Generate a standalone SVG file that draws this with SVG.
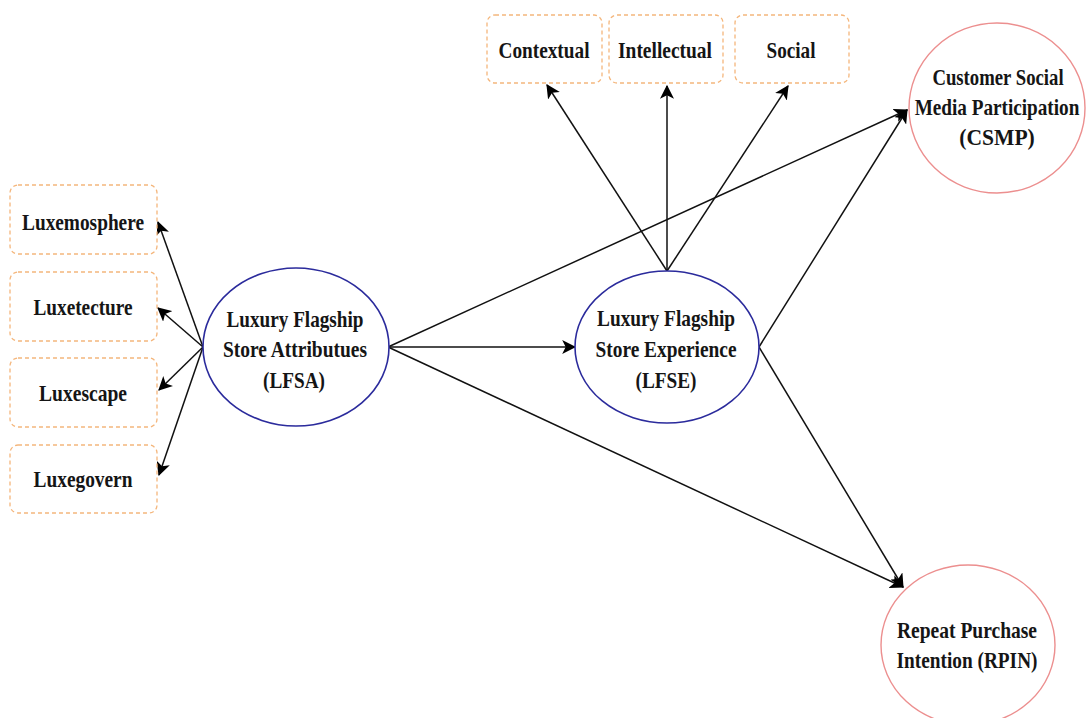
<svg xmlns="http://www.w3.org/2000/svg" width="1087" height="718" viewBox="0 0 1087 718">
  <style>
    .ind { fill: #ffffff; stroke: #f4b67c; stroke-width: 1.3; stroke-dasharray: 4 3; }
    .lat { fill: #ffffff; stroke: #2b2b9c; stroke-width: 1.6; }
    .out { fill: #ffffff; stroke: #ec8f8f; stroke-width: 1.4; }
    .lbl { font-family: "Liberation Serif", "Times New Roman", serif; font-weight: bold; font-size: 24px; fill: #151515; text-anchor: middle; }
    .edge { fill: none; stroke: #111111; stroke-width: 1.5; marker-end: url(#arrow); }
  </style>
  <defs>
    <marker id="arrow" viewBox="0 0 12 12" refX="11" refY="6" markerWidth="14" markerHeight="14" markerUnits="userSpaceOnUse" orient="auto">
      <path d="M0,0 L12,6 L0,12 L3,6 Z" fill="#000000"/>
    </marker>
  </defs>
  <rect width="1087" height="718" fill="#ffffff"/>

  <!-- connectors -->
  <g id="connectors">
    <line class="edge" x1="203" y1="347" x2="158" y2="222"/>
    <line class="edge" x1="203" y1="347" x2="158" y2="308"/>
    <line class="edge" x1="203" y1="347" x2="159" y2="390"/>
    <line class="edge" x1="203" y1="347" x2="159" y2="475"/>
    <line class="edge" x1="388" y1="347" x2="575" y2="347"/>
    <line class="edge" x1="388" y1="347" x2="907" y2="110"/>
    <line class="edge" x1="388" y1="347" x2="903" y2="587"/>
    <line class="edge" x1="759" y1="347" x2="907" y2="110"/>
    <line class="edge" x1="759" y1="347" x2="903" y2="587"/>
    <line class="edge" x1="667" y1="271" x2="547" y2="85"/>
    <line class="edge" x1="667" y1="271" x2="667" y2="86"/>
    <line class="edge" x1="667" y1="271" x2="788" y2="86"/>
  </g>

  <!-- indicator boxes for LFSA -->
  <g id="luxemosphere">
    <rect class="ind" x="10" y="185" width="147" height="69" rx="8"/>
    <text class="lbl" x="83" y="230" textLength="122" lengthAdjust="spacingAndGlyphs">Luxemosphere</text>
  </g>
  <g id="luxetecture">
    <rect class="ind" x="10" y="272" width="147" height="69" rx="8"/>
    <text class="lbl" x="83" y="315" textLength="99" lengthAdjust="spacingAndGlyphs">Luxetecture</text>
  </g>
  <g id="luxescape">
    <rect class="ind" x="10" y="358" width="147" height="69" rx="8"/>
    <text class="lbl" x="83" y="401" textLength="88" lengthAdjust="spacingAndGlyphs">Luxescape</text>
  </g>
  <g id="luxegovern">
    <rect class="ind" x="10" y="445" width="147" height="68" rx="8"/>
    <text class="lbl" x="83" y="487" textLength="99" lengthAdjust="spacingAndGlyphs">Luxegovern</text>
  </g>

  <!-- indicator boxes for LFSE -->
  <g id="contextual">
    <rect class="ind" x="487" y="15" width="115" height="68" rx="8"/>
    <text class="lbl" x="544" y="58" textLength="91" lengthAdjust="spacingAndGlyphs">Contextual</text>
  </g>
  <g id="intellectual">
    <rect class="ind" x="609" y="15" width="114" height="68" rx="8"/>
    <text class="lbl" x="665" y="58" textLength="94" lengthAdjust="spacingAndGlyphs">Intellectual</text>
  </g>
  <g id="social">
    <rect class="ind" x="735" y="15" width="114" height="68" rx="8"/>
    <text class="lbl" x="791" y="58" textLength="49" lengthAdjust="spacingAndGlyphs">Social</text>
  </g>

  <!-- latent constructs -->
  <g id="lfsa">
    <ellipse class="lat" cx="296" cy="347" rx="93" ry="79"/>
    <text class="lbl" x="295" y="327" textLength="137" lengthAdjust="spacingAndGlyphs">Luxury Flagship</text>
    <text class="lbl" x="295" y="357" textLength="144" lengthAdjust="spacingAndGlyphs">Store Attributues</text>
    <text class="lbl" x="294" y="388" textLength="62" lengthAdjust="spacingAndGlyphs">(LFSA)</text>
  </g>
  <g id="lfse">
    <ellipse class="lat" cx="667" cy="347" rx="92" ry="76"/>
    <text class="lbl" x="666" y="326" textLength="138" lengthAdjust="spacingAndGlyphs">Luxury Flagship</text>
    <text class="lbl" x="666" y="357" textLength="141" lengthAdjust="spacingAndGlyphs">Store Experience</text>
    <text class="lbl" x="666" y="388" textLength="61" lengthAdjust="spacingAndGlyphs">(LFSE)</text>
  </g>

  <!-- outcome constructs (wide lines are condensed with a horizontal scale) -->
  <g id="csmp">
    <ellipse class="out" cx="997" cy="108" rx="88" ry="85"/>
    <text class="lbl" transform="translate(998,85) scale(0.78,1)">Customer Social</text>
    <text class="lbl" transform="translate(997,115) scale(0.8,1)">Media Participation</text>
    <text class="lbl" transform="translate(997,145) scale(0.9,1)">(CSMP)</text>
  </g>
  <g id="rpin">
    <ellipse class="out" cx="968" cy="645" rx="87" ry="80"/>
    <text class="lbl" x="967" y="638" textLength="140" lengthAdjust="spacingAndGlyphs">Repeat Purchase</text>
    <text class="lbl" x="967" y="668" textLength="141" lengthAdjust="spacingAndGlyphs">Intention (RPIN)</text>
  </g>
</svg>
